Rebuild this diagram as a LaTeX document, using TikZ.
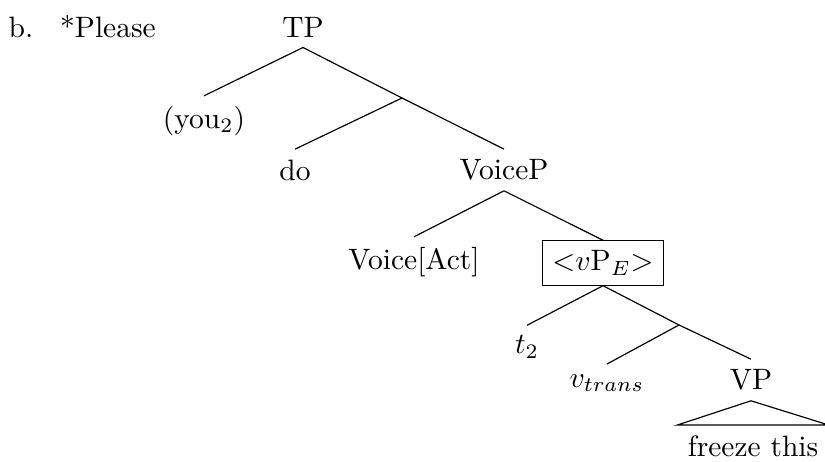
\documentclass[tikz,border=0pt]{standalone}
\usetikzlibrary{%
    positioning
}
\tikzset{tracebox/.style = {draw, inner sep=.3333em}}
\newcommand{\trbr}[1]{\ensuremath{<}#1\ensuremath{>}}

\begin{document}
\begin{tikzpicture}[x=0.339pt, y=-0.339pt]
    \useasboundingbox (0,0) rectangle (825,462);

    \node (ex) at (21,27) {b.};
    \node (please) at (108,27) {*Please};

    \node (tp) at (303,27) {TP};
    \coordinate (tpbar) at (402,98);
    \node (you) at (204,121) {(you$_2$)};
    \node (do) at (295,170) {do};
    \node (voicep) at (504,170) {VoiceP};
    \node (voice) at (414,262) {Voice[Act]};
    \node (vpe) [tracebox] at (603,263) {\trbr{$v$P$_E$}};
    \node (trace) at (527,347) {$t_2$};
    \coordinate (vbar) at (679,325);
    \node (vtrans) at (607,383) {$v_{trans}$};
    \node (vp) at (751,380) {VP};
    \node (freeze) at (753,446) {freeze this};

    \foreach \Source/\Target in {%
        tp.south/you.north,
        tp.south/tpbar,
        tpbar/do.north,
        tpbar/voicep.north,
        voicep.south/voice.north,
        voicep.south/vpe.north,
        vpe.south/trace.north,
        vpe.south/vbar,
        vbar/vtrans.north,
        vbar/vp.north%
    }
        \draw (\Source) to (\Target);

    \draw (vp.south) -- (freeze.north west) -- (freeze.north east) -- cycle;
\end{tikzpicture}
\end{document}
